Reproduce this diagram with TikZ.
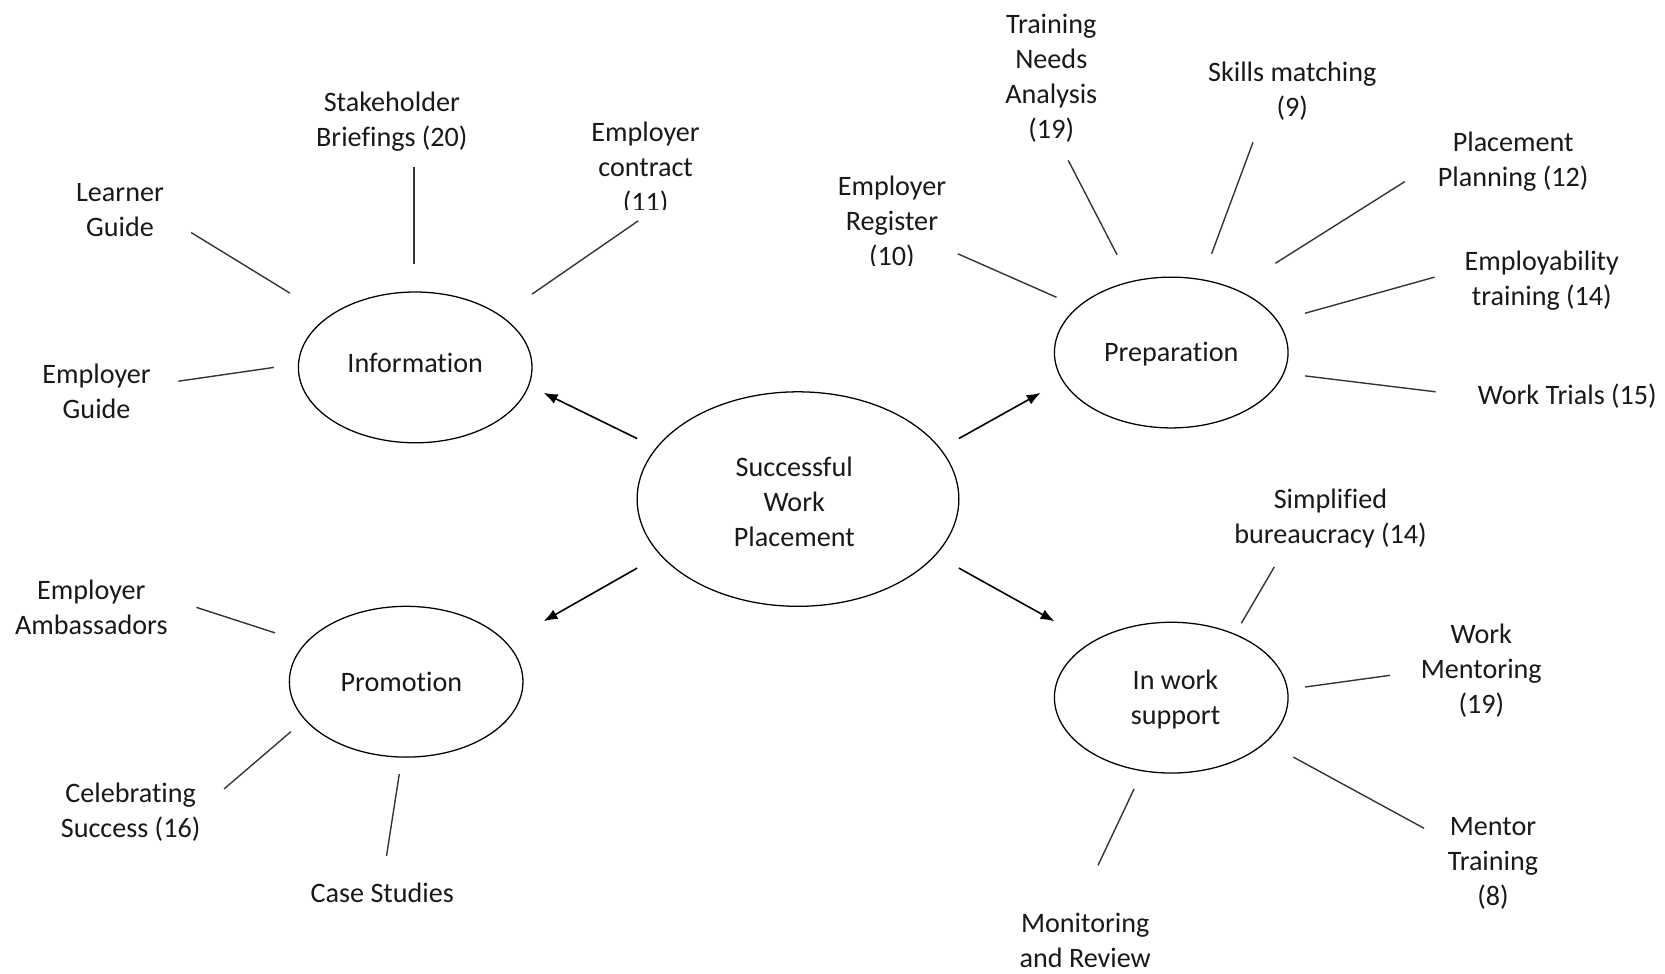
\documentclass[tikz,border=0pt]{standalone}
\usepackage{fontspec}
\setmainfont[Ligatures=NoCommon]{Carlito}
\usetikzlibrary{shapes.geometric,arrows.meta}
\begin{document}
\begin{tikzpicture}[x=1pt,y=-1pt,
  every node/.style={font=\fontsize{26.5}{33}\selectfont, align=center, inner sep=0pt, text=black!90},
  bubble/.style={ellipse, draw=black, line width=1.2pt, inner sep=0pt},
  spoke/.style={draw=black!80, line width=1.3pt},
  flow/.style={draw=black, line width=1.5pt, -{Latex[length=13pt,width=10pt]}}]
\useasboundingbox[fill=white] (0,0) rectangle (1568,917);

% main bubbles
\node[bubble, minimum width=303pt, minimum height=202pt] (swp) at (751.5,470) {};
\node[bubble, minimum width=220pt, minimum height=142pt] (info) at (391,346) {};
\node[bubble, minimum width=220pt, minimum height=142pt] (prep) at (1103,332) {};
\node[bubble, minimum width=220pt, minimum height=142pt] (promo) at (382.5,642) {};
\node[bubble, minimum width=220pt, minimum height=142pt] (iws) at (1103,657) {};
\node (swpt) at (748,472.5) {Successful\\Work\\Placement};
\node (infot) at (391,342) {Information};
\node (prept) at (1103,333) {Preparation};
\node (promot) at (378,642) {Promotion};
\node (iwst) at (1107,658.5) {In work\\support};

% arrows
\coordinate (a1s) at (600,413); \coordinate (a1e) at (512,370);
\coordinate (a2s) at (903,413); \coordinate (a2e) at (980,370);
\coordinate (a3s) at (600,535); \coordinate (a3e) at (512,585);
\coordinate (a4s) at (903,535); \coordinate (a4e) at (993,585);
\draw[flow] (a1s) -- (a1e);
\draw[flow] (a2s) -- (a2e);
\draw[flow] (a3s) -- (a3e);
\draw[flow] (a4s) -- (a4e);

% Information labels
\node (lg) at (113,197.5) {Learner\\Guide};
\node (sb) at (369,114.5) {Stakeholder\\Briefings (20)};
\begin{scope}
\clip (500,100) rectangle (720,197);
\node (ec) at (608,158.5) {Employer\\contract\\(11)};
\end{scope}
\node (eg) at (91,368.5) {Employer\\Guide};
\coordinate (lg1) at (180,219); \coordinate (lg2) at (273,276);
\coordinate (sb1) at (390,157); \coordinate (sb2) at (390,249);
\coordinate (ec1) at (601,208); \coordinate (ec2) at (501,277);
\coordinate (eg1) at (168,359); \coordinate (eg2) at (258,346);
\draw[spoke] (lg1) -- (lg2);
\draw[spoke] (sb1) -- (sb2);
\draw[spoke] (ec1) -- (ec2);
\draw[spoke] (eg1) -- (eg2);

% Preparation labels
\begin{scope}
\clip (760,150) rectangle (930,250);
\node (er) at (840,210) {Employer\\Register\\(10)};
\end{scope}
\node (tna) at (990,73.5) {Training\\Needs\\Analysis\\(19)};
\node (sm) at (1217,85.5) {Skills matching\\(9)};
\node (pp) at (1425,152.5) {Placement\\Planning (12)};
\node (et) at (1452,264.5) {Employability\\training (14)};
\node (wt) at (1476,373) {Work Trials (15)};
\coordinate (er1) at (902,239); \coordinate (er2) at (995,280);
\coordinate (tna1) at (1006,151); \coordinate (tna2) at (1052,240);
\coordinate (sm1) at (1180,134); \coordinate (sm2) at (1141,239);
\coordinate (pp1) at (1323,171); \coordinate (pp2) at (1201,248);
\coordinate (et1) at (1351,261); \coordinate (et2) at (1229,295);
\coordinate (wt1) at (1352,369); \coordinate (wt2) at (1229,354);
\draw[spoke] (er1) -- (er2);
\draw[spoke] (tna1) -- (tna2);
\draw[spoke] (sm1) -- (sm2);
\draw[spoke] (pp1) -- (pp2);
\draw[spoke] (et1) -- (et2);
\draw[spoke] (wt1) -- (wt2);

% Promotion labels
\node (ea) at (86,571.5) {Employer\\Ambassadors};
\node (cs) at (123,764.5) {Celebrating\\Success (16)};
\node (cst) at (360,841) {Case Studies};
\coordinate (ea1) at (185,572); \coordinate (ea2) at (259,596);
\coordinate (cs1) at (211,743); \coordinate (cs2) at (274,689);
\coordinate (cst1) at (364,806); \coordinate (cst2) at (376,729);
\draw[spoke] (ea1) -- (ea2);
\draw[spoke] (cs1) -- (cs2);
\draw[spoke] (cst1) -- (cst2);

% In work support labels
\node (sbu) at (1253,488.5) {Simplified\\bureaucracy (14)};
\node (wm) at (1395,631.5) {Work\\Mentoring\\(19)};
\node (mt) at (1406,813.5) {Mentor\\Training\\(8)};
\node (mr) at (1022,886) {Monitoring\\and Review};
\coordinate (sbu1) at (1200,534); \coordinate (sbu2) at (1169,587);
\coordinate (wm1) at (1309,636); \coordinate (wm2) at (1229,647);
\coordinate (mt1) at (1341,780); \coordinate (mt2) at (1218,713);
\coordinate (mr1) at (1034,815); \coordinate (mr2) at (1068,743);
\draw[spoke] (sbu1) -- (sbu2);
\draw[spoke] (wm1) -- (wm2);
\draw[spoke] (mt1) -- (mt2);
\draw[spoke] (mr1) -- (mr2);
\end{tikzpicture}
\end{document}
